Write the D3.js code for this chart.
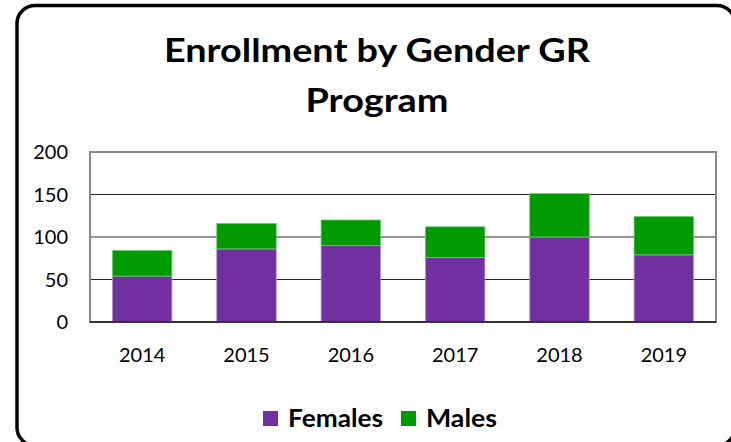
<!DOCTYPE html>
<html>
<head>
<meta charset="utf-8">
<script src="https://cdn.jsdelivr.net/npm/d3@7"></script>
<style>
  body { margin: 0; background: #fff; overflow: hidden; }
  text { font-family: Lato, "Open Sans", sans-serif; }
</style>
</head>
<body>
<div id="chart"></div>
<script>
var svgWidth = 731;
var svgHeight = 442;

// chart data
var years = ["2014", "2015", "2016", "2017", "2018", "2019"];
var females = [54, 86, 90, 76, 100, 79];
var males = [30, 30, 30, 36, 51, 45];
var yTicks = [0, 50, 100, 150, 200];
var seriesNames = ["Females", "Males"];
var seriesColors = ["#7030a0", "#009900"];

var margin = { top: 152, right: 15, bottom: 120, left: 90 };
var width = 716 - margin.left;
var height = 322 - margin.top;

var svg = d3.select("#chart")
  .append("svg")
  .attr("width", svgWidth)
  .attr("height", svgHeight)
  .style("display", "block");

// outer rounded frame (runs off the right and bottom edges)
svg.append("rect")
  .attr("x", 17)
  .attr("y", 5.5)
  .attr("width", 718)
  .attr("height", 440)
  .attr("rx", 18)
  .attr("fill", "white")
  .attr("stroke", "black")
  .attr("stroke-width", 3.5);

// title
svg.append("text")
  .attr("x", 377)
  .attr("y", 62)
  .attr("text-anchor", "middle")
  .attr("font-size", 33)
  .attr("font-weight", "bold")
  .attr("textLength", 426)
  .attr("lengthAdjust", "spacingAndGlyphs")
  .text("Enrollment by Gender GR");

svg.append("text")
  .attr("x", 377)
  .attr("y", 112)
  .attr("text-anchor", "middle")
  .attr("font-size", 33)
  .attr("font-weight", "bold")
  .attr("textLength", 143)
  .attr("lengthAdjust", "spacingAndGlyphs")
  .text("Program");

var chartGroup = svg.append("g")
  .attr("transform", `translate(${margin.left}, ${margin.top})`);

var xScale = d3.scaleBand()
  .domain(years)
  .range([0, width])
  .paddingInner(0.43)
  .paddingOuter(0.215);

var yScale = d3.scaleLinear()
  .domain([0, 200])
  .range([height, 0]);

// gridlines
chartGroup.append("g")
  .selectAll("line")
  .data(yTicks.filter(d => d > 0 && d < 200))
  .enter()
  .append("line")
  .attr("x1", 0)
  .attr("x2", width)
  .attr("y1", d => yScale(d))
  .attr("y2", d => yScale(d))
  .attr("stroke", "#262626")
  .attr("stroke-width", 1);

// plot frame
chartGroup.append("rect")
  .attr("x", 0)
  .attr("y", 0)
  .attr("width", width)
  .attr("height", height)
  .attr("fill", "none")
  .attr("stroke", "#888")
  .attr("stroke-width", 2);

// stacked bars
var stackData = years.map((y, i) => ({ year: y, Females: females[i], Males: males[i] }));
var stacked = d3.stack().keys(seriesNames)(stackData);

chartGroup.selectAll(".series")
  .data(stacked)
  .enter()
  .append("g")
  .attr("fill", (d, i) => seriesColors[i])
  .attr("stroke", (d, i) => i === 0 ? "#b594d0" : "#66cc66")
  .attr("stroke-width", 0.8)
  .selectAll("rect")
  .data(d => d)
  .enter()
  .append("rect")
  .attr("x", d => xScale(d.data.year))
  .attr("width", xScale.bandwidth())
  .attr("y", d => yScale(d[1]))
  .attr("height", d => yScale(d[0]) - yScale(d[1]));

// bottom axis line
chartGroup.append("line")
  .attr("x1", 0)
  .attr("x2", width)
  .attr("y1", height)
  .attr("y2", height)
  .attr("stroke", "#333")
  .attr("stroke-width", 2);

// y labels
chartGroup.append("g")
  .selectAll("text")
  .data(yTicks)
  .enter()
  .append("text")
  .attr("x", -22)
  .attr("y", d => yScale(d))
  .attr("dy", "0.35em")
  .attr("text-anchor", "end")
  .attr("font-size", 20)
  .text(d => d);

// x labels
chartGroup.append("g")
  .selectAll("text")
  .data(years)
  .enter()
  .append("text")
  .attr("x", d => xScale(d) + xScale.bandwidth() / 2)
  .attr("y", height + 40)
  .attr("text-anchor", "middle")
  .attr("font-size", 20)
  .text(d => d);

// legend
var legend = svg.append("g");
var legendX = [263, 401];
var legendW = [95, 71];
seriesNames.forEach(function(name, i) {
  legend.append("rect")
    .attr("x", legendX[i])
    .attr("y", 411)
    .attr("width", 15)
    .attr("height", 15)
    .attr("fill", seriesColors[i]);
  legend.append("text")
    .attr("x", legendX[i] + 25)
    .attr("y", 427)
    .attr("font-size", 24)
    .attr("font-weight", "bold")
    .attr("textLength", legendW[i])
    .attr("lengthAdjust", "spacingAndGlyphs")
    .text(name);
});
</script>
</body>
</html>
